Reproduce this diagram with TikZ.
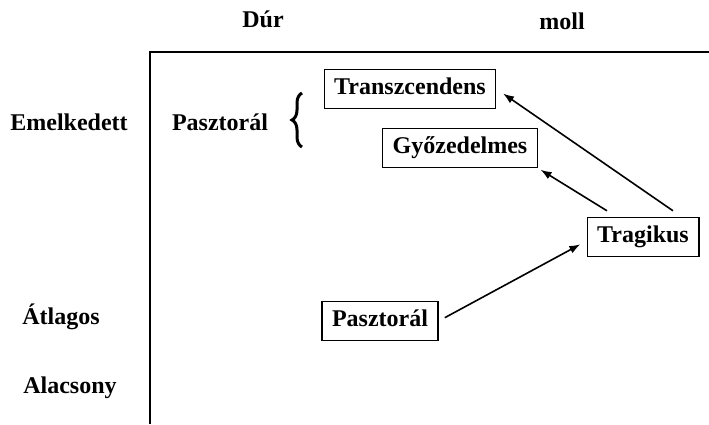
\documentclass[tikz,border=0pt]{standalone}
\usepackage{fontspec}
\setmainfont{Liberation Serif}
\usetikzlibrary{calc,arrows.meta,decorations.pathreplacing}
\tikzset{
  lbl/.style={font=\bfseries\fontsize{24}{28}\selectfont, inner sep=0pt},
  box/.style={lbl, draw, line width=1.4pt, inner xsep=10pt, text height=17pt, text depth=6pt, inner ysep=8pt},
  arr/.style={-{Latex[length=11pt,width=8pt]}, line width=1.6pt, shorten >=7pt, shorten <=7pt}
}

\begin{document}
\begin{tikzpicture}[x=1pt,y=-1pt]
\useasboundingbox (0,0) rectangle (709,424);
% frame
\draw [line width=2.4pt] (709,52) -| (150,424);
% axis labels
\node [lbl] (dur) at (263,19) {Dúr};
\node [lbl] (moll) at (562,21) {moll};
\node [lbl] (emel) at (69,122) {Emelkedett};
\node [lbl] (atl) at (61,317) {Átlagos};
\node [lbl] (alac) at (70,388) {Alacsony};
% pasztoral with brace
\node [lbl] (pastl) at (220,122) {Pasztorál};
\coordinate (bb) at (302,147);
\coordinate (bt) at (302,93);
\draw [line width=3pt, decorate, decoration={brace, amplitude=10pt}] (bb) -- (bt);
% boxes
\node [box] (trans) at (410,89) {Transzcendens};
\node [box] (gyoz) at (460,148) {Győzedelmes};
\node [box] (trag) at (643,237) {Tragikus};
\node [box] (past) at (380,321) {Pasztorál};
% arrows
\draw [arr] (past.east) -- ([yshift=-4pt]trag.west);
\draw [arr, shorten <=0pt, shorten >=8pt] ([xshift=30pt,yshift=6pt]trag.north) -- (trans.east);
\draw [arr, shorten <=0pt, shorten >=3pt] ([xshift=-36pt,yshift=6pt]trag.north) -- (gyoz.south east);
\end{tikzpicture}
\end{document}
